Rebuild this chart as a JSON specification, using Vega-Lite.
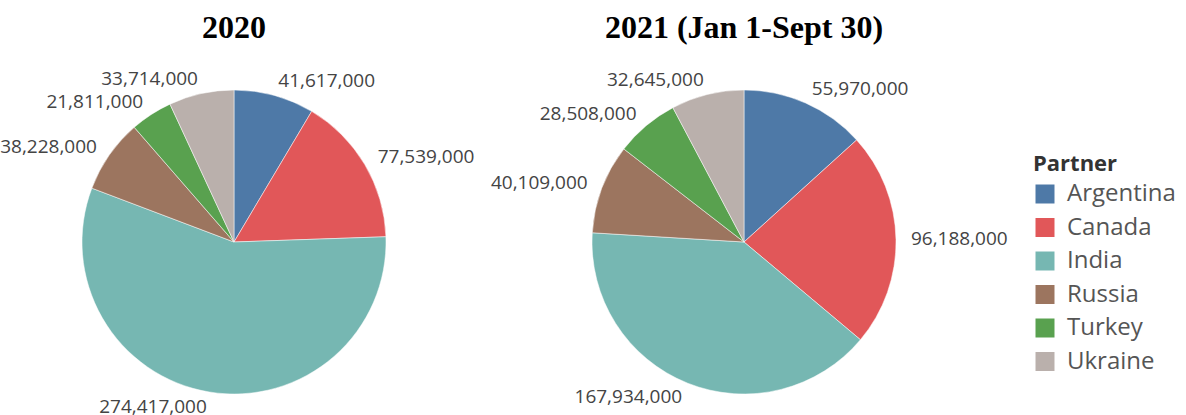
{
  "$schema": "https://vega.github.io/schema/vega-lite/v6.json",
  "padding": {"left": 0, "top": 12, "right": 0, "bottom": 0},
  "background": "white",
  "bounds": "flush",
  "data": {"values": [
    {"Year": "2020", "Partner": "Argentina", "Value": 41617000},
    {"Year": "2020", "Partner": "Canada", "Value": 77539000},
    {"Year": "2020", "Partner": "India", "Value": 274417000},
    {"Year": "2020", "Partner": "Russia", "Value": 38228000},
    {"Year": "2020", "Partner": "Turkey", "Value": 21811000},
    {"Year": "2020", "Partner": "Ukraine", "Value": 33714000},
    {"Year": "2021 (Jan 1-Sept 30)", "Partner": "Argentina", "Value": 55970000},
    {"Year": "2021 (Jan 1-Sept 30)", "Partner": "Canada", "Value": 96188000},
    {"Year": "2021 (Jan 1-Sept 30)", "Partner": "India", "Value": 167934000},
    {"Year": "2021 (Jan 1-Sept 30)", "Partner": "Russia", "Value": 40109000},
    {"Year": "2021 (Jan 1-Sept 30)", "Partner": "Turkey", "Value": 28508000},
    {"Year": "2021 (Jan 1-Sept 30)", "Partner": "Ukraine", "Value": 32645000}
  ]},
  "facet": {
    "column": {"field": "Year", "type": "nominal", "title": null,
      "header": {"labelFont": "Liberation Serif", "labelFontWeight": "bold", "labelFontSize": 32,
        "labelColor": "black", "labelBaseline": "alphabetic", "labelPadding": 7}}
  },
  "spacing": 46,
  "spec": {
    "width": 464,
    "height": 330,
    "encoding": {
      "theta": {"field": "Value", "type": "quantitative", "stack": true},
      "order": {"field": "Partner", "sort": "ascending"}
    },
    "layer": [
      {
        "mark": {"type": "arc", "outerRadius": 152, "stroke": "white", "strokeWidth": 0.5},
        "encoding": {
          "color": {"field": "Partner", "type": "nominal",
            "scale": {"domain": ["Argentina", "Canada", "India", "Russia", "Turkey", "Ukraine"],
              "range": ["#4e79a7", "#e15759", "#76b7b2", "#9c755f", "#59a14f", "#bab0ac"]},
            "legend": {"orient": "none", "legendX": 1031, "legendY": 77,
              "title": "Partner", "titleFont": "Open Sans", "titleFontSize": 22, "titleFontWeight": "bold", "titleColor": "#333",
              "labelFont": "Open Sans", "labelFontSize": 24, "labelColor": "#555",
              "symbolType": "square", "symbolSize": 361, "symbolStrokeWidth": 0, "symbolOpacity": 1,
              "rowPadding": 9.5, "labelOffset": 10, "titlePadding": 6}}
        }
      },
      {
        "mark": {"type": "text", "radius": 167, "align": "left", "baseline": "middle", "font": "Open Sans", "fontSize": 19, "color": "#444"},
        "encoding": {
          "text": {"condition": {"test": "datum.Partner === 'Argentina' || datum.Partner === 'Canada'", "field": "Value", "type": "quantitative", "format": ","}, "value": ""}
        }
      },
      {
        "mark": {"type": "text", "radius": 167, "align": "right", "baseline": "middle", "font": "Open Sans", "fontSize": 19, "color": "#444"},
        "encoding": {
          "text": {"condition": {"test": "datum.Partner !== 'Argentina' && datum.Partner !== 'Canada'", "field": "Value", "type": "quantitative", "format": ","}, "value": ""}
        }
      }
    ],
    "resolve": {"scale": {"theta": "shared"}}
  },
  "resolve": {"scale": {"theta": "independent"}},
  "config": {"view": {"stroke": null}}
}
